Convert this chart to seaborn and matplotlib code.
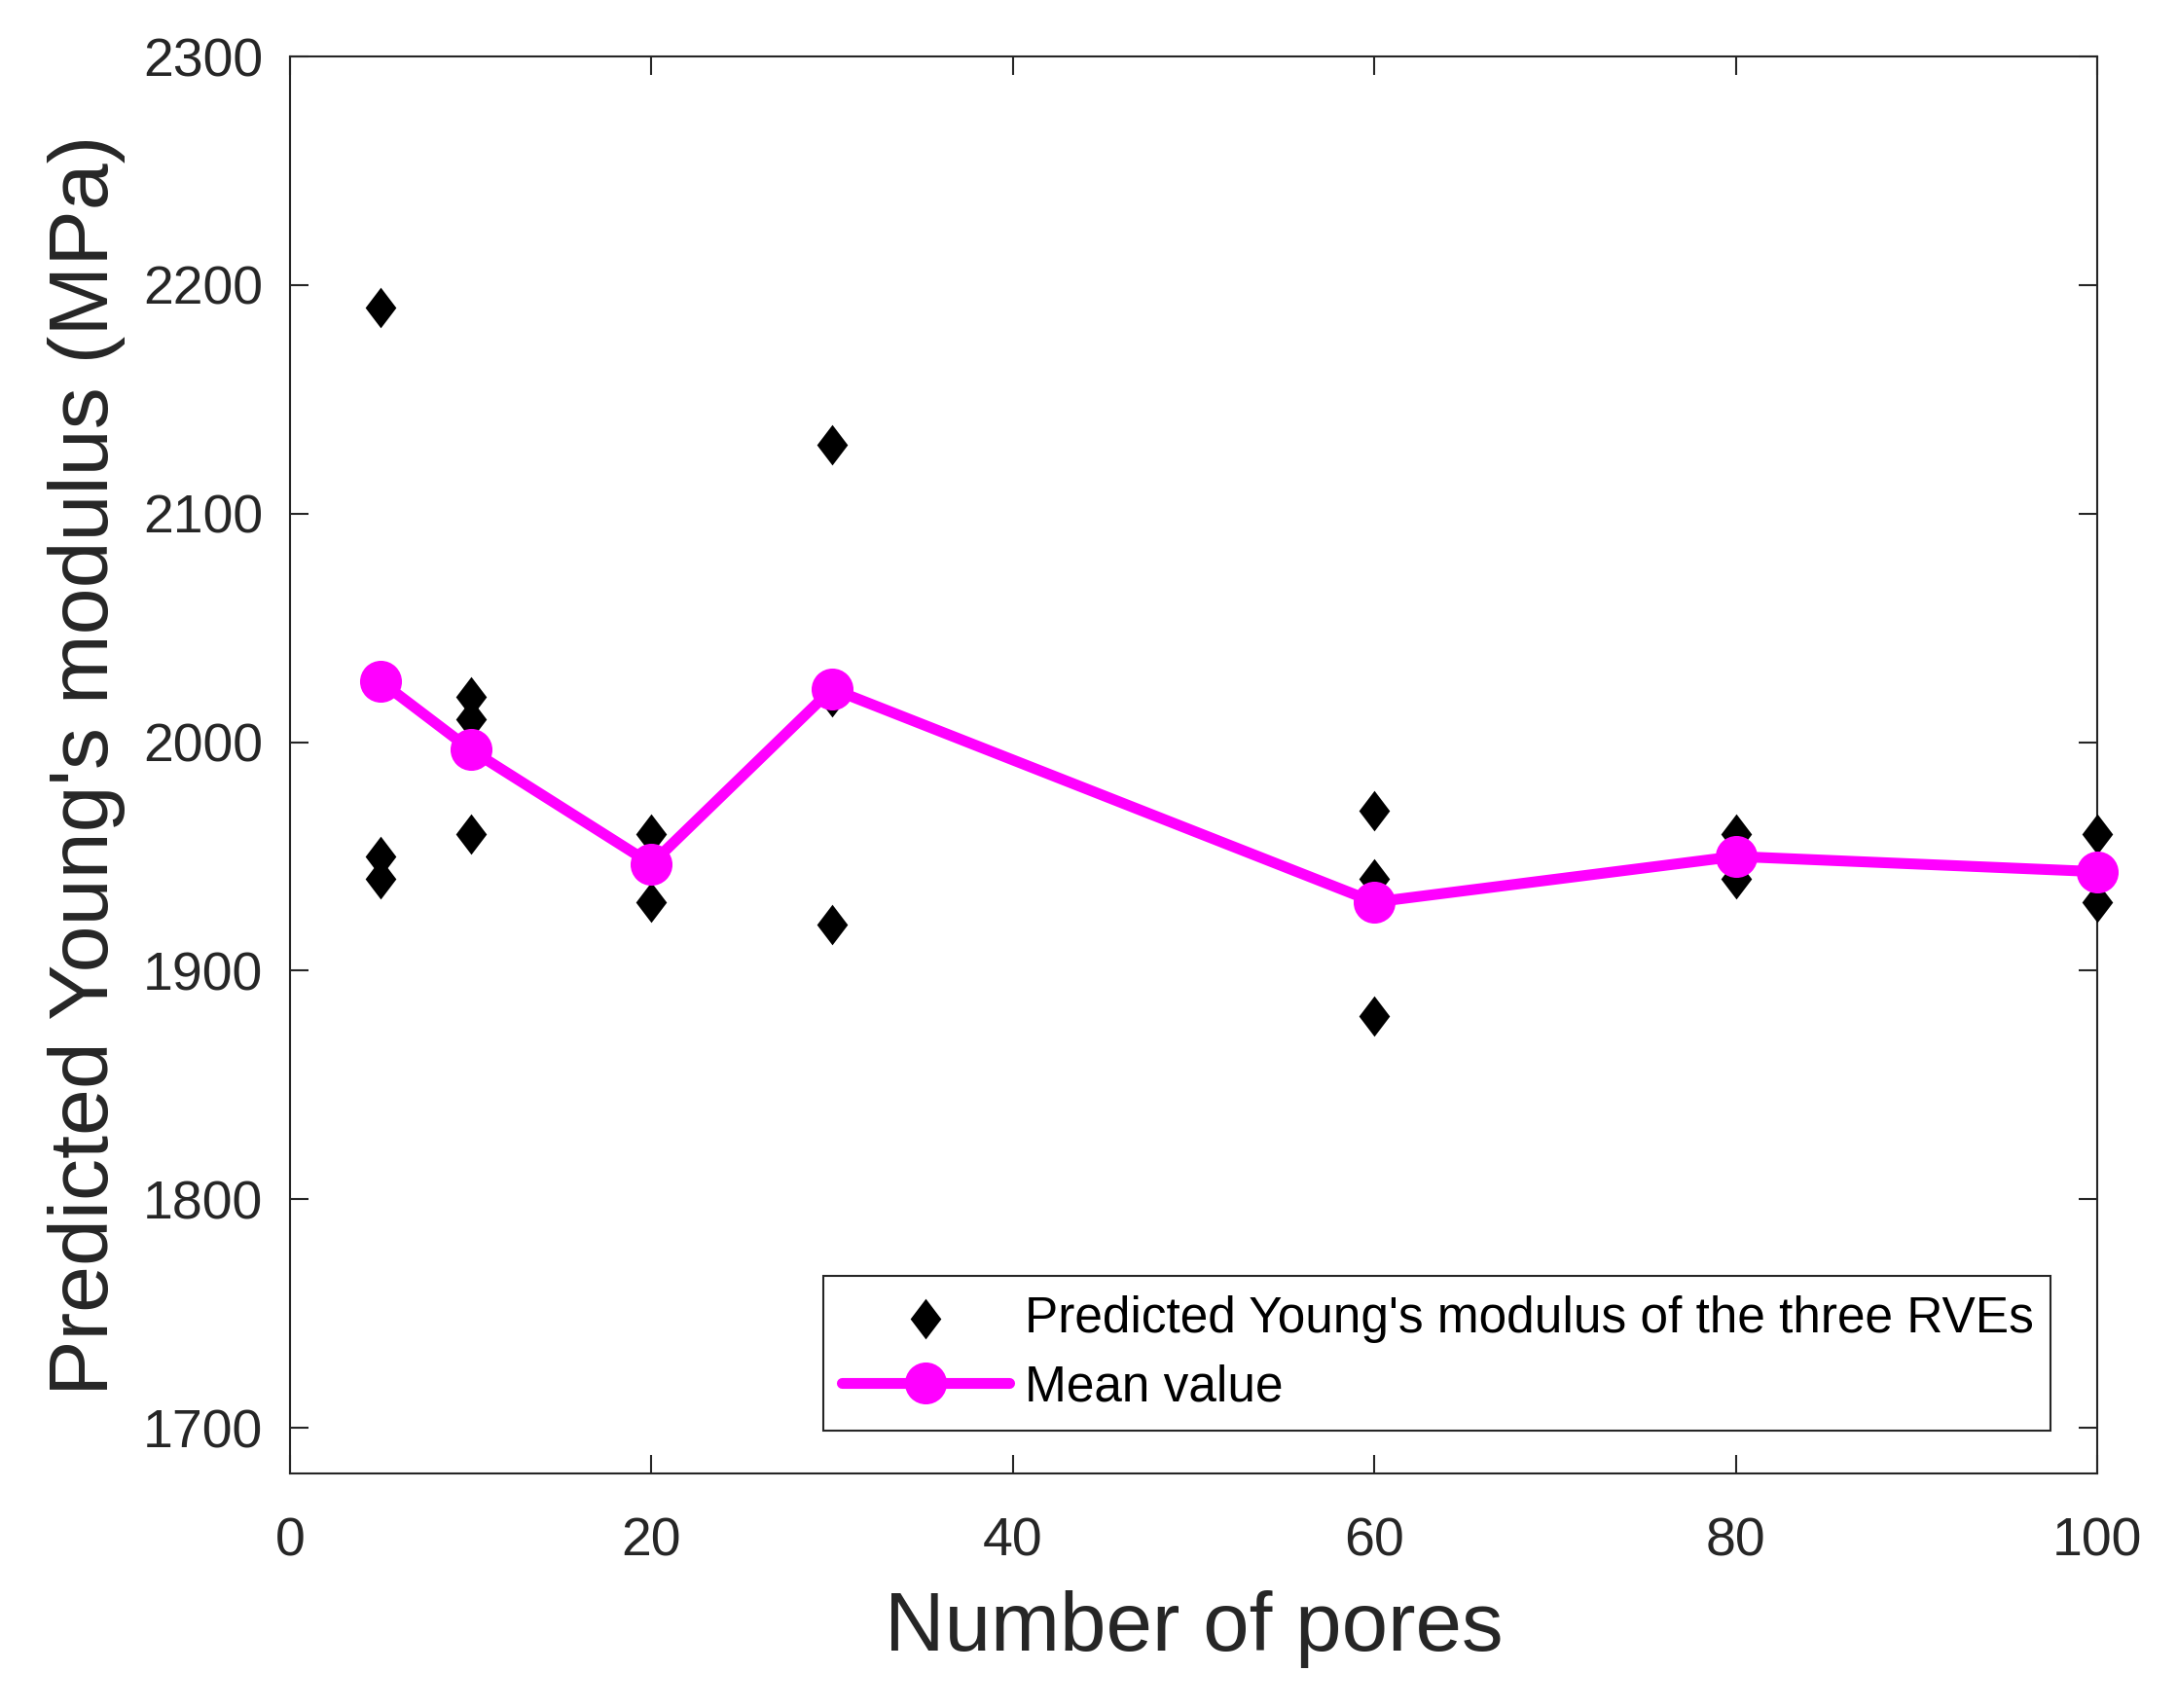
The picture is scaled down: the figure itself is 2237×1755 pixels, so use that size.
import numpy as np
import pandas as pd
import matplotlib
matplotlib.use('Agg')
import matplotlib.pyplot as plt
import seaborn as sns
from matplotlib.path import Path

# ---- data ----
pores = [5, 10, 20, 30, 60, 80, 100]
rve1 = [2190, 2020, 1960, 2130, 1970, 1960, 1960]
rve2 = [1950, 2010, 1950, 2020, 1940, 1950, 1940]
rve3 = [1940, 1960, 1930, 1920, 1880, 1940, 1930]
x_ticks = [0, 20, 40, 60, 80, 100]
y_ticks = [1700, 1800, 1900, 2000, 2100, 2200, 2300]
label_pts = "Predicted Young's modulus of the three RVEs"
label_mean = "Mean value"
x_label = "Number of pores"
y_label = "Predicted Young's modulus (MPa)"

df = pd.DataFrame({'pores': pores * 3, 'E': rve1 + rve2 + rve3})

sns.set_theme(style='white')
plt.rcParams['font.family'] = ['Liberation Sans', 'DejaVu Sans']

dark = '#262626'
fig = plt.figure(figsize=(22.37, 17.55), dpi=100)
ax = fig.add_axes([0.1332, 0.1373, 0.8301, 0.8296])

diamond = Path([(0, 1), (0.76, 0), (0, -1), (-0.76, 0), (0, 1)],
               [Path.MOVETO, Path.LINETO, Path.LINETO, Path.LINETO, Path.CLOSEPOLY])

sns.scatterplot(data=df, x='pores', y='E', marker=diamond, s=30 ** 2,
                color='black', linewidth=0, ax=ax, label=label_pts,
                clip_on=False, zorder=3)
sns.lineplot(data=df, x='pores', y='E', estimator='mean', errorbar=None,
             color='#FF00FF', linewidth=8, marker='o', markersize=31,
             markeredgewidth=0, ax=ax, label=label_mean, clip_on=False,
             zorder=4)

ax.set_xlim(0, 100)
ax.set_ylim(1680, 2300)
ax.set_xticks(x_ticks)
ax.set_yticks(y_ticks)

for sp in ax.spines.values():
    sp.set_visible(True)
    sp.set_color(dark)
    sp.set_linewidth(1.5)

ax.tick_params(axis='both', direction='in', length=14, width=1.5,
               colors=dark, labelsize=40, top=True, right=True,
               bottom=True, left=True)
ax.tick_params(axis='x', pad=32)
ax.tick_params(axis='y', pad=20)

ax.set_xlabel(x_label, fontsize=61.5, color=dark, labelpad=17)
ax.set_ylabel(y_label, fontsize=62, color=dark, labelpad=13)

leg = ax.legend(loc='upper left', bbox_to_anchor=(0.295, 0.0357, 0.679, 0.1037),
                mode='expand', borderaxespad=0, fontsize=37,
                handlelength=3.35, handletextpad=0.3, frameon=True,
                fancybox=False, edgecolor=dark, framealpha=1,
                labelspacing=0.42, borderpad=0.38)
leg.get_frame().set_linewidth(1.5)
for t in leg.get_texts():
    t.set_color('black')

fig.savefig('out.png', dpi=100, facecolor='white')
